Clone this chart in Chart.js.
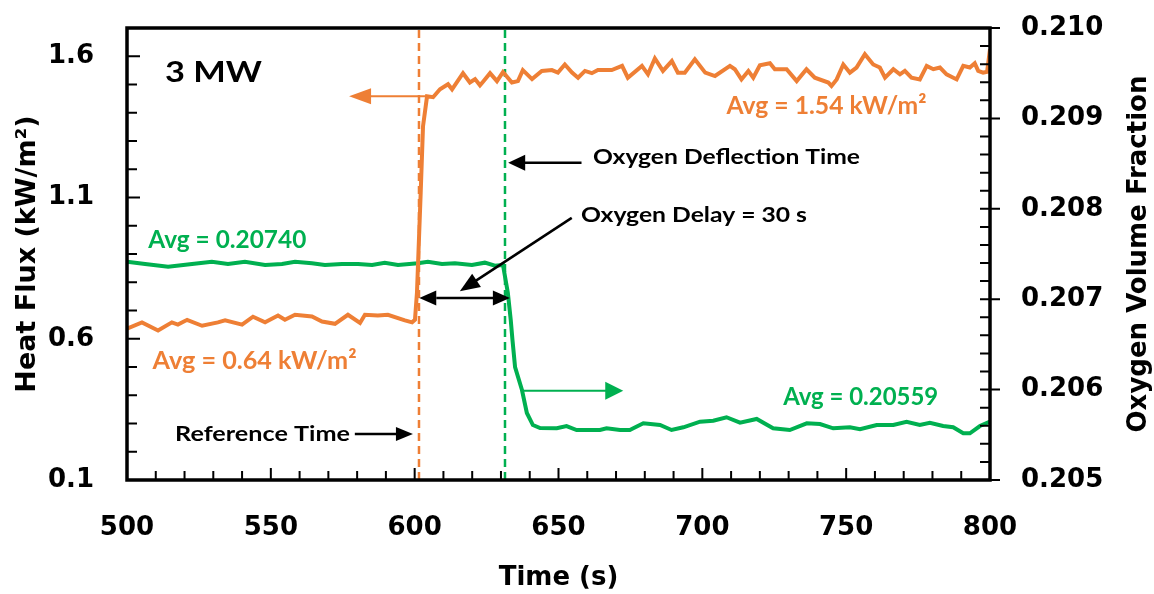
<!DOCTYPE html>
<html>
<head>
<meta charset="utf-8">
<title>Heat flux and oxygen volume fraction - 3 MW</title>
<script src="https://cdn.jsdelivr.net/npm/chart.js@4.4.1/dist/chart.umd.min.js"></script>
<style>
  html, body { margin: 0; padding: 0; background: #fff; }
  canvas { display: block; }
</style>
</head>
<body>
<canvas id="chart" width="1154" height="594"></canvas>
<script>
// tick labels
var xTicks = [500, 550, 600, 650, 700, 750, 800];
var hfTicks = [0.1, 0.6, 1.1, 1.6];
var o2Ticks = [0.205, 0.206, 0.207, 0.208, 0.209, 0.210];

// heat flux (kW/m2), left axis
var hfTime = [500, 505.2, 510.8, 515.6, 517.7, 520.9, 526.1, 531.6, 534.1, 540.0,
  543.8, 548.0, 552.5, 554.9, 558.4, 564.3, 567.8, 572.3, 576.8, 581.0,
  582.7, 587.2, 590.7, 596.6, 599.1, 600.1, 600.8, 602.1, 602.9, 604.3,
  606.4, 608.8, 611.6, 613.0, 616.8, 619.2, 621.0, 622.7, 623.7, 626.2,
  628.6, 630.7, 633.8, 635.9, 637.6, 640.8, 644.2, 647.7, 649.8, 652.2,
  654.7, 656.8, 659.2, 661.6, 663.7, 668.5, 672.1, 674.1, 679.0, 681.1,
  683.5, 686.3, 689.4, 691.5, 693.9, 697.4, 701.0, 704.4, 709.6, 711.3,
  713.6, 716.0, 717.7, 720.0, 723.5, 725.2, 729.3, 732.8, 736.2, 739.1,
  743.8, 744.9, 746.7, 749.0, 751.3, 753.6, 756.5, 759.4, 761.7, 763.5,
  766.4, 768.7, 770.4, 772.7, 775.6, 778.0, 780.3, 782.6, 784.9, 788.4,
  790.7, 793.0, 794.7, 795.9, 797.6, 799.0, 800];
var hfValue = [0.636, 0.658, 0.629, 0.658, 0.650, 0.667, 0.646, 0.658, 0.665, 0.650,
  0.678, 0.658, 0.682, 0.667, 0.685, 0.679, 0.661, 0.653, 0.685, 0.656,
  0.685, 0.682, 0.685, 0.665, 0.658, 0.667, 0.763, 1.118, 1.352, 1.458,
  1.455, 1.483, 1.501, 1.483, 1.540, 1.507, 1.519, 1.497, 1.509, 1.540,
  1.512, 1.544, 1.507, 1.512, 1.551, 1.519, 1.548, 1.551, 1.542, 1.571,
  1.542, 1.524, 1.548, 1.540, 1.551, 1.551, 1.566, 1.524, 1.566, 1.536,
  1.592, 1.548, 1.583, 1.542, 1.542, 1.589, 1.542, 1.530, 1.566, 1.554,
  1.518, 1.548, 1.524, 1.568, 1.575, 1.554, 1.554, 1.512, 1.554, 1.524,
  1.507, 1.495, 1.518, 1.571, 1.542, 1.560, 1.607, 1.571, 1.560, 1.524,
  1.554, 1.536, 1.548, 1.524, 1.518, 1.566, 1.554, 1.560, 1.536, 1.518,
  1.566, 1.560, 1.575, 1.548, 1.542, 1.545, 1.625];

// oxygen volume fraction, right axis
var o2Time = [500, 506.3, 514.3, 522.6, 529.5, 535.1, 541.0, 548.0, 553.9, 558.4,
  564.3, 568.8, 574.7, 580.3, 585.2, 589.6, 594.2, 601.1, 604.6, 609.5,
  614.0, 619.9, 624.4, 627.9, 630.7, 632.4, 633.4, 634.0, 634.9, 637.3,
  639.0, 641.1, 643.6, 649.4, 652.8, 656.3, 664.4, 666.7, 671.4, 674.8,
  676.0, 679.5, 685.3, 689.3, 693.4, 699.2, 703.8, 708.4, 713.1, 718.9,
  724.6, 730.4, 736.3, 740.9, 745.5, 751.3, 754.8, 760.6, 766.4, 771.0,
  775.6, 779.1, 783.7, 787.2, 790.7, 793.0, 796.5, 800];
var o2Value = [0.207415, 0.207389, 0.207359, 0.207389, 0.207415, 0.207389, 0.207415, 0.207378, 0.207389, 0.207415,
  0.207397, 0.207378, 0.207389, 0.207389, 0.207378, 0.207404, 0.207378, 0.207397, 0.207415, 0.207389,
  0.207397, 0.207378, 0.207404, 0.207370, 0.207378, 0.207069, 0.206770, 0.206549, 0.206250, 0.205996,
  0.205741, 0.205608, 0.205575, 0.205572, 0.205597, 0.205553, 0.205553, 0.205572, 0.205553, 0.205553,
  0.205572, 0.205627, 0.205608, 0.205553, 0.205583, 0.205645, 0.205656, 0.205694, 0.205634, 0.205675,
  0.205572, 0.205553, 0.205627, 0.205619, 0.205572, 0.205583, 0.205561, 0.205608, 0.205608, 0.205645,
  0.205608, 0.205634, 0.205597, 0.205583, 0.205517, 0.205517, 0.205597, 0.205645];

var refTime = 601.5;   // reference time (heat flux rise)
var deflTime = 631.4;  // oxygen deflection time

var ORANGE = '#EE7F35';
var GREEN = '#00B050';
var tickFont = { family: 'DejaVu Sans', weight: 'bold', size: 26 };

// text notes, placed in time / heat flux units
var notes = [
  { text: '3 MW', t: 513.2, v: 1.509, color: '#000', size: 29, width: 97 },
  { text: 'Avg = 1.54 kW/m²', t: 708.4, v: 1.394, color: ORANGE, size: 24, width: 200 },
  { text: 'Oxygen Deflection Time', t: 662.0, v: 1.217, color: '#000', size: 21, width: 267 },
  { text: 'Oxygen Delay = 30 s', t: 657.8, v: 1.013, color: '#000', size: 21, width: 226 },
  { text: 'Avg = 0.20740', t: 507.4, v: 0.923, color: GREEN, size: 24, width: 158 },
  { text: 'Avg = 0.64 kW/m²', t: 508.9, v: 0.494, color: ORANGE, size: 24, width: 204 },
  { text: 'Reference Time', t: 516.7, v: 0.238, color: '#000', size: 21, width: 175 },
  { text: 'Avg = 0.20559', t: 728.1, v: 0.366, color: GREEN, size: 24, width: 155 }
];

var arrows = [
  { from: [604.3, 1.458], to: [577.2, 1.458], color: ORANGE, width: 2, head: 22, half: 8 },
  { from: [658.0, 1.223], to: [632.5, 1.223], color: '#000', width: 2.5, head: 17, half: 8 },
  { from: [654.6, 1.028], to: [615.7, 0.768], color: '#000', width: 2.5, head: 20, half: 8 },
  { from: [601.6, 0.744], to: [633.1, 0.744], color: '#000', width: 2.5, head: 17, half: 7.5, both: true },
  { from: [637.2, 0.416], to: [672.5, 0.416], color: GREEN, width: 2, head: 18, half: 9 },
  { from: [579.2, 0.263], to: [599.4, 0.263], color: '#000', width: 2.5, head: 17, half: 7 }
];

function points(times, values) {
  return times.map(function (t, i) { return { x: t, y: values[i] }; });
}

function noEdgePadding(s) {
  s.paddingTop = 0; s.paddingBottom = 0; s.paddingLeft = 0; s.paddingRight = 0;
}

function drawHead(ctx, x, y, ang, len, half) {
  ctx.beginPath();
  ctx.moveTo(x, y);
  ctx.lineTo(x - len * Math.cos(ang) - half * Math.sin(ang), y - len * Math.sin(ang) + half * Math.cos(ang));
  ctx.lineTo(x - len * Math.cos(ang) + half * Math.sin(ang), y - len * Math.sin(ang) - half * Math.cos(ang));
  ctx.closePath();
  ctx.fill();
}

var decorations = {
  id: 'decorations',
  afterDatasetsDraw: function (chart) {
    var ctx = chart.ctx, a = chart.chartArea;
    var sx = chart.scales.x, sy = chart.scales.y, sy1 = chart.scales.y1;
    var i, p, len;
    ctx.save();

    // inward tick marks
    ctx.strokeStyle = '#000';
    ctx.lineWidth = 2;
    ctx.beginPath();
    for (i = 0; i <= 30; i++) {
      p = sx.getPixelForValue(500 + i * 10);
      len = i % 5 === 0 ? 12 : 9;
      ctx.moveTo(p, a.bottom); ctx.lineTo(p, a.bottom - len);
    }
    for (i = 1; i <= 17; i++) {
      p = sy.getPixelForValue(i / 10);
      len = (i - 1) % 5 === 0 ? 13 : 10;
      ctx.moveTo(a.left, p); ctx.lineTo(a.left + len, p);
    }
    for (i = 0; i <= 25; i++) {
      p = sy1.getPixelForValue(0.205 + i * 0.0002);
      if (i % 5 === 0) { ctx.moveTo(a.right - 10, p); ctx.lineTo(a.right + 10, p); }
      else { ctx.moveTo(a.right - 10, p); ctx.lineTo(a.right, p); }
    }
    ctx.stroke();

    // plot frame
    ctx.lineWidth = 3.5;
    ctx.strokeRect(a.left, a.top, a.right - a.left, a.bottom - a.top);

    // right axis title, reading upward
    ctx.save();
    ctx.translate(1139, (a.top + a.bottom) / 2);
    ctx.rotate(-Math.PI / 2);
    ctx.font = 'bold 26px "DejaVu Sans"';
    ctx.fillStyle = '#000';
    ctx.textAlign = 'center';
    ctx.textBaseline = 'middle';
    ctx.fillText('Oxygen Volume Fraction', 0, 0);
    ctx.restore();

    // arrows
    arrows.forEach(function (ar) {
      var x0 = sx.getPixelForValue(ar.from[0]), y0 = sy.getPixelForValue(ar.from[1]);
      var x1 = sx.getPixelForValue(ar.to[0]), y1 = sy.getPixelForValue(ar.to[1]);
      var ang = Math.atan2(y1 - y0, x1 - x0);
      var sxs = x0, sys = y0;
      if (ar.both) { sxs = x0 + ar.head * Math.cos(ang); sys = y0 + ar.head * Math.sin(ang); }
      ctx.strokeStyle = ar.color;
      ctx.fillStyle = ar.color;
      ctx.lineWidth = ar.width;
      ctx.beginPath();
      ctx.moveTo(sxs, sys);
      ctx.lineTo(x1 - (ar.head - 2) * Math.cos(ang), y1 - (ar.head - 2) * Math.sin(ang));
      ctx.stroke();
      drawHead(ctx, x1, y1, ang, ar.head, ar.half);
      if (ar.both) drawHead(ctx, x0, y0, ang + Math.PI, ar.head, ar.half);
    });

    // text notes, stretched to the measured width
    notes.forEach(function (n) {
      ctx.font = 'bold ' + n.size + 'px Lato';
      var w = ctx.measureText(n.text).width;
      ctx.save();
      ctx.translate(sx.getPixelForValue(n.t), sy.getPixelForValue(n.v));
      ctx.scale(n.width / w, 1);
      ctx.fillStyle = n.color;
      ctx.textAlign = 'left';
      ctx.textBaseline = 'alphabetic';
      ctx.fillText(n.text, 0, 0);
      ctx.restore();
    });

    ctx.restore();
  }
};

new Chart(document.getElementById('chart'), {
  type: 'line',
  data: {
    datasets: [{
      label: 'Heat flux',
      data: points(hfTime, hfValue),
      yAxisID: 'y',
      borderColor: ORANGE,
      borderWidth: 4,
      pointRadius: 0,
      tension: 0
    }, {
      label: 'Oxygen volume fraction',
      data: points(o2Time, o2Value),
      yAxisID: 'y1',
      borderColor: GREEN,
      borderWidth: 4,
      pointRadius: 0,
      tension: 0
    }, {
      label: 'Reference time',
      data: [{ x: refTime, y: 0.1 }, { x: refTime, y: 1.7 }],
      yAxisID: 'y',
      borderColor: ORANGE,
      borderWidth: 2.5,
      borderDash: [8, 5],
      pointRadius: 0
    }, {
      label: 'Oxygen deflection time',
      data: [{ x: deflTime, y: 0.205 }, { x: deflTime, y: 0.210 }],
      yAxisID: 'y1',
      borderColor: GREEN,
      borderWidth: 2.5,
      borderDash: [8, 5],
      pointRadius: 0
    }]
  },
  options: {
    responsive: false,
    animation: false,
    devicePixelRatio: 1,
    layout: { padding: { top: 28, left: 0, right: 0, bottom: 0 } },
    plugins: { legend: { display: false }, tooltip: { enabled: false } },
    scales: {
      x: {
        type: 'linear',
        min: 500,
        max: 800,
        afterBuildTicks: function (s) { s.ticks = xTicks.map(function (v) { return { value: v }; }); },
        afterFit: function (s) { s.height = 114; noEdgePadding(s); },
        grid: { display: false, drawTicks: false },
        border: { display: false },
        ticks: { font: tickFont, color: '#000', padding: 33, maxRotation: 0, autoSkip: false },
        title: { display: true, text: 'Time (s)', font: tickFont, color: '#000', padding: { top: 0, bottom: 0 } }
      },
      y: {
        position: 'left',
        min: 0.1,
        max: 1.7,
        afterBuildTicks: function (s) { s.ticks = hfTicks.map(function (v) { return { value: v }; }); },
        afterFit: function (s) { s.width = 127; noEdgePadding(s); },
        grid: { display: false, drawTicks: false },
        border: { display: false },
        ticks: { font: tickFont, color: '#000', padding: 33, callback: function (v) { return v.toFixed(1); } },
        title: { display: true, text: 'Heat Flux (kW/m²)', font: { family: 'DejaVu Sans', weight: 'bold', size: 27 }, color: '#000', padding: { top: 12, bottom: 0 } }
      },
      y1: {
        position: 'right',
        min: 0.205,
        max: 0.210,
        afterBuildTicks: function (s) { s.ticks = o2Ticks.map(function (v) { return { value: v }; }); },
        afterFit: function (s) { s.width = 164; noEdgePadding(s); },
        grid: { display: false, drawTicks: false },
        border: { display: false },
        ticks: { font: tickFont, color: '#000', padding: 31, callback: function (v) { return v.toFixed(3); } }
      }
    }
  },
  plugins: [decorations]
});
</script>
</body>
</html>
